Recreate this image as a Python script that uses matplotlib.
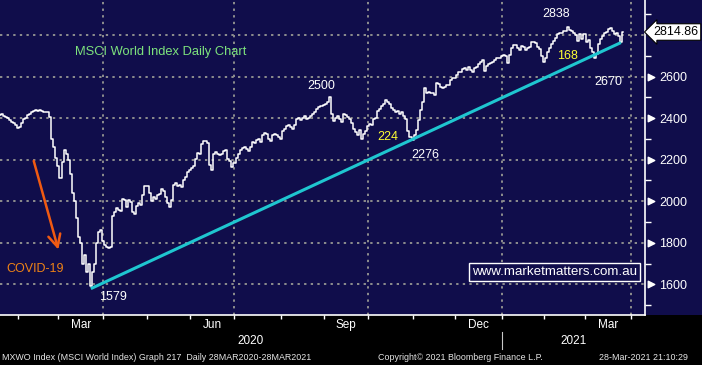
import numpy as np
import pandas as pd
import matplotlib
matplotlib.use('Agg')
import matplotlib.pyplot as plt
from matplotlib.patches import Rectangle

# Daily closes, one list per month
jan20 = [2415, 2418, 2412, 2405, 2400, 2392, 2380, 2375, 2365]
feb20 = [2352, 2358, 2376, 2398, 2402, 2417, 2420, 2432, 2435, 2438,
         2436, 2437, 2434, 2432, 2432, 2430, 2405, 2300, 2260, 2210]
mar20 = [2170, 2110, 2190, 2245, 2225, 2200, 2130, 2040, 2000, 1920, 1830,
         1800, 1700, 1740, 1660, 1700, 1590, 1660, 1700, 1800, 1850, 1860]
apr20 = [1810, 1790, 1780, 1775, 1780, 1930, 1950, 1965, 1960, 1955, 2010,
         2005, 1970, 2005, 1995, 1950, 1940, 1975, 1990, 1980, 2030, 2075]
may20 = [2072, 2040, 2000, 2020, 2010, 2030, 2035, 2060, 2050, 2020, 1990,
         1970, 2005, 2080, 2090, 2075, 2080, 2070, 2100, 2115, 2140]
jun20 = [2150, 2160, 2170, 2205, 2230, 2225, 2275, 2290, 2288, 2280, 2175,
         2150, 2225, 2235, 2225, 2222, 2228, 2240, 2245, 2205, 2195, 2165]
jul20 = [2185, 2210, 2225, 2245, 2255, 2260, 2250, 2240, 2260, 2285, 2280, 2295,
         2300, 2285, 2320, 2330, 2325, 2300, 2290, 2320, 2325, 2318, 2310]
aug20 = [2300, 2340, 2350, 2360, 2368, 2355, 2350, 2365, 2395, 2400, 2390,
         2403, 2408, 2398, 2400, 2410, 2420, 2430, 2445, 2455, 2458]
sep20 = [2462, 2468, 2478, 2500, 2420, 2385, 2400, 2410, 2395, 2380, 2420,
         2415, 2405, 2395, 2375, 2350, 2335, 2320, 2345, 2300, 2325, 2340]
oct20 = [2360, 2370, 2365, 2395, 2400, 2435, 2445, 2460, 2470, 2488, 2478,
         2470, 2448, 2440, 2430, 2435, 2420, 2428, 2410, 2395, 2340, 2310]
nov20 = [2295, 2320, 2345, 2390, 2440, 2478, 2545, 2520, 2525, 2522, 2520,
         2510, 2568, 2565, 2550, 2545, 2548, 2560, 2562, 2585, 2594]
dec20 = [2592, 2610, 2620, 2622, 2635, 2640, 2632, 2645, 2630, 2620, 2640, 2645,
         2660, 2672, 2678, 2625, 2650, 2662, 2665, 2670, 2678, 2690, 2692]
jan21 = [2698, 2702, 2698, 2665, 2705, 2740, 2750, 2750, 2740, 2730, 2748,
         2745, 2730, 2740, 2745, 2765, 2765, 2760, 2745, 2735, 2700]
feb21 = [2670, 2690, 2720, 2740, 2755, 2770, 2785, 2805, 2808, 2812,
         2820, 2818, 2838, 2825, 2818, 2808, 2800, 2770, 2805, 2780]
mar21 = [2805, 2765, 2775, 2740, 2720, 2690, 2710, 2755, 2780, 2795,
         2812, 2815, 2830, 2835, 2818, 2805, 2808, 2795, 2765, 2814.86]

# trend line: trading-day index and value at both ends
trend_i = [45, 307]
trend_v = [1579, 2764]

y_levels = [1600, 1800, 2000, 2200, 2400, 2600]
month_labels = ['Mar', 'Jun', 'Sep', 'Dec', 'Mar']
last_price = 2814.86

NAVY = '#100d4b'
GRID = '#8e8e8e'

close = np.array(jan20 + feb20 + mar20 + apr20 + may20 + jun20 + jul20 +
                 aug20 + sep20 + oct20 + nov20 + dec20 + jan21 + feb21 + mar21)
days = pd.bdate_range('2020-01-21', '2021-04-30')
x = np.arange(len(close))

# first trading day of every month, as index positions
month_start = pd.Series(np.arange(len(days)), index=days).groupby(
    [days.year, days.month]).first()
pos = {(y, m): v for (y, m), v in month_start.items()}

fig = plt.figure(figsize=(7.02, 3.65), dpi=100, facecolor='black')
fig.patches.append(Rectangle((0, 50 / 365), 1, 315 / 365, transform=fig.transFigure,
                             facecolor=NAVY, edgecolor='none', zorder=-10))
ax = fig.add_axes([0, 50 / 365, 645 / 702, 315 / 365])
ax.set_facecolor(NAVY)
ax.set_xlim(0.1, 318.9)
ax.set_ylim(1452, 2969)

# grid
for lv in y_levels + [2800]:
    ax.axhline(lv, color=GRID, lw=1.4, ls=(0, (1.2, 2.2)), zorder=1)
quarters = [pos[(2020, 4)], pos[(2020, 7)], pos[(2020, 10)], pos[(2021, 1)], pos[(2021, 4)]]
for q in quarters:
    ax.axvline(q, color=GRID, lw=1.4, ls=(0, (1.2, 2.2)), zorder=1)

ax.step(x, close, where='mid', color='white', lw=1.1, zorder=3)
ax.plot(trend_i, trend_v, color='#1fc6d0', lw=2.2, zorder=4, solid_capstyle='butt')

# spines
for s in ['left', 'top']:
    ax.spines[s].set_visible(False)
for s in ['right', 'bottom']:
    ax.spines[s].set_color('white')
    ax.spines[s].set_linewidth(1.2)

# right axis
ax.yaxis.tick_right()
ax.set_yticks(y_levels)
ax.set_yticklabels([str(v) for v in y_levels], fontsize=9, color='white',
                   family='Liberation Sans')
ax.set_yticks(np.arange(1500, 2950, 200), minor=True)
ax.tick_params(axis='y', which='major', length=0, pad=10)
ax.tick_params(axis='y', which='minor', length=4, width=1, color='white', direction='out')
ax.scatter(np.full(len(y_levels), 1.009), y_levels, marker='>', s=22, color='white',
           transform=ax.get_yaxis_transform(), clip_on=False, zorder=5)

# price tag
ax.text(1.013, last_price, f'{last_price:.2f}', transform=ax.get_yaxis_transform(),
        ha='left', va='center', fontsize=9, color='black', family='Liberation Sans',
        bbox=dict(boxstyle='larrow,pad=0.18', fc='white', ec='black', lw=0.8),
        clip_on=False, zorder=6)

# bottom axis
ax.set_xticks([])
ax.set_xticks(list(month_start.values[1:]), minor=True)
ax.tick_params(axis='x', which='minor', length=3, width=1, color='white', direction='out')
ax.tick_params(axis='x', which='major', length=0)
lab_months = [(2020, 3), (2020, 6), (2020, 9), (2020, 12), (2021, 3)]
for (yy, mm), lab in zip(lab_months, month_labels):
    nxt = (yy, mm + 1) if mm < 12 else (yy + 1, 1)
    ax.text((pos[(yy, mm)] + pos[nxt]) / 2, -0.032, lab, transform=ax.get_xaxis_transform(),
            ha='center', va='center', color='white', fontsize=8.5, family='Liberation Sans')
jan21_pos = pos[(2021, 1)]
ax.text(jan21_pos / 2, -0.083, '2020', transform=ax.get_xaxis_transform(),
        ha='center', va='center', color='white', fontsize=8.5, family='Liberation Sans')
ax.text((jan21_pos + 318.9) / 2, -0.083, '2021', transform=ax.get_xaxis_transform(),
        ha='center', va='center', color='white', fontsize=8.5, family='Liberation Sans')
ax.plot([jan21_pos, jan21_pos], [-0.054, -0.108], color='#c8c8c8', lw=0.8,
        transform=ax.get_xaxis_transform(), clip_on=False)

# annotations
lab_kw = dict(ha='center', va='center', fontsize=9, family='Liberation Sans', zorder=6)
ax.text(79.7, 2717, 'MSCI World Index Daily Chart', color='#7de27d', fontsize=9.3,
        ha='center', va='center', family='Liberation Sans')
ax.text(158.8, 2555, '2500', color='white', **lab_kw)
ax.text(191.9, 2311, '224', color='#ffff33', **lab_kw)
ax.text(210.2, 2223, '2276', color='white', **lab_kw)
ax.text(274.9, 2902, '2838', color='white', **lab_kw)
ax.text(280.4, 2700, '168', color='#ffff33', **lab_kw)
ax.text(301.0, 2576, '2670', color='white', **lab_kw)
ax.text(56.0, 1540, '1579', color='white', **lab_kw)
ax.text(17.4, 1673, 'COVID-19', color='#ee8216', **lab_kw)
ax.annotate('', xy=(29.3, 1754), xytext=(16.4, 2207),
            arrowprops=dict(arrowstyle='->', color='#f05a12', lw=1.8, mutation_scale=22))
ax.text(274, 1658, 'www.marketmatters.com.au', color='white', fontsize=9.6,
        ha='center', va='center', family='Liberation Sans', zorder=6,
        bbox=dict(boxstyle='square,pad=0.22', fc=NAVY, ec='white', lw=1))

# footer
foot_kw = dict(fontsize=6.4, color='#e6e6e6', va='center', family='Liberation Sans')
fig.text(2 / 702, 0.021, 'MXWO Index (MSCI World Index) Graph 217  Daily 28MAR2020-28MAR2021',
         ha='left', **foot_kw)
fig.text(460 / 702, 0.021, 'Copyright\u00a9 2021 Bloomberg Finance L.P.', ha='center', **foot_kw)
fig.text(688 / 702, 0.021, '28-Mar-2021 21:10:29', ha='right', **foot_kw)

fig.savefig('out.png', dpi=100, facecolor='black')
